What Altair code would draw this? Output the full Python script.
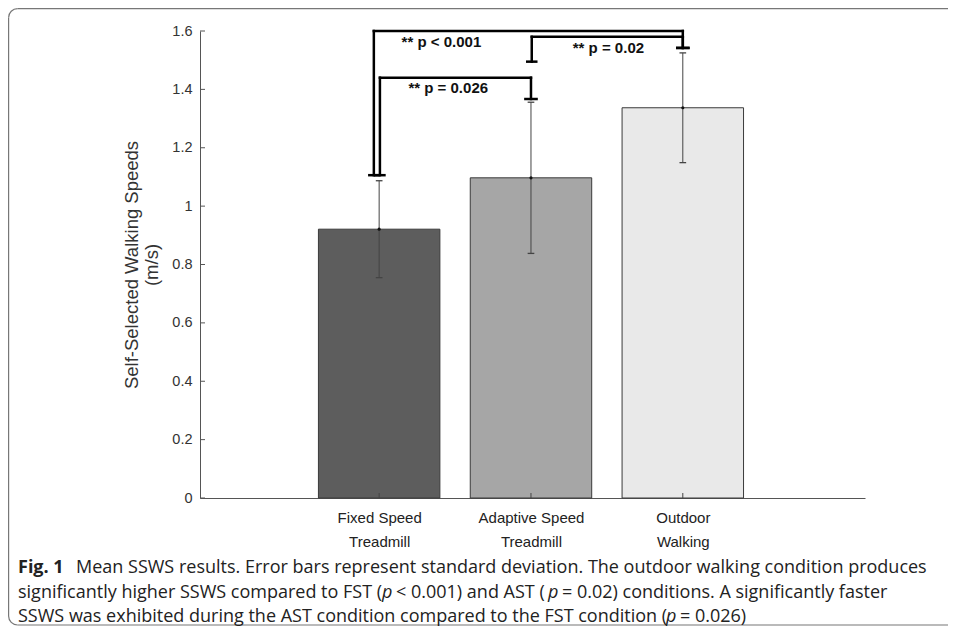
import altair as alt
import pandas as pd
import math

# ---------------- data ----------------
categories = ["Fixed Speed Treadmill", "Adaptive Speed Treadmill", "Outdoor Walking"]
label_line1 = ["Fixed Speed", "Adaptive Speed", "Outdoor"]
label_line2 = ["Treadmill", "Treadmill", "Walking"]
positions = [1, 2, 3]
means = [0.921, 1.097, 1.337]
sds = [0.166, 0.259, 0.188]
fills = ["#5d5d5d", "#a6a6a6", "#e9e9e9"]

y_ticks = [0, 0.2, 0.4, 0.6, 0.8, 1.0, 1.2, 1.4, 1.6]

# significance brackets
bracket_labels = ["** p < 0.001", "** p = 0.026", "** p = 0.02"]
bracket_from = [1, 1, 2]
bracket_to = [3, 2, 3]
bracket_from_dx = [-0.035, 0.005, 0.005]
bracket_top = [1.60, 1.44, 1.58]
bracket_from_end = [1.106, 1.106, 1.495]
bracket_to_end = [1.542, 1.367, 1.542]
bracket_label_x = [1.41, 1.455, 2.51]

caption_lines = [
    [("Fig. 1", "bold", "normal", 18),
     ("Mean SSWS results. Error bars represent standard deviation. The outdoor walking condition produces", "normal", "normal", 76)],
    [("significantly higher SSWS compared to FST (", "normal", "normal", 18), ("p", "normal", "italic", 382),
     ("< 0.001) and AST (", "normal", "normal", 396), ("p", "normal", "italic", 548),
     ("= 0.02) conditions. A significantly faster", "normal", "normal", 562)],
    [("SSWS was exhibited during the AST condition compared to the FST condition (", "normal", "normal", 18),
     ("p", "normal", "italic", 666), ("= 0.026)", "normal", "normal", 680)],
]
caption_baselines = [573, 597.5, 621.5]

# ---------------- layout ----------------
W, H = 665, 467
PL, PT = 192, 23
PR = 956 - 16 - PL - W
PB = 634 - 16 - PT - H
OX, OY = PL + 8, PT + 8  # page coords of plot origin

bars_df = pd.DataFrame({"pos": positions, "mean": means, "sd": sds, "fill": fills, "cat": categories})
br_df = pd.DataFrame({
    "label": bracket_labels,
    "lx": [a + d for a, d in zip(bracket_from, bracket_from_dx)],
    "rx": bracket_to,
    "top": bracket_top,
    "lend": bracket_from_end,
    "rend": bracket_to_end,
    "tx": bracket_label_x,
})
ticks_df = pd.DataFrame({"v": y_ticks})

label_expr = " : ".join(
    f"datum.value == {p} ? ['{a}', '{b}']" for p, a, b in zip(positions[:-1], label_line1[:-1], label_line2[:-1])
) + f" : ['{label_line1[-1]}', '{label_line2[-1]}']"

xs = alt.Scale(domain=[-0.18, 4.2], nice=False, zero=False)
ys = alt.Scale(domain=[0, 1.6], nice=False, zero=False)

xaxis = alt.Axis(values=positions, labelExpr=label_expr, title=None, ticks=False, grid=False,
                 domainColor="#555", labelFont="Liberation Sans", labelFontSize=15, labelColor="#222",
                 labelPadding=12, labelLineHeight=24)
yaxis = alt.Axis(values=y_ticks, format=".1~f", title=["Self-Selected Walking Speeds", "(m/s)"],
                 ticks=False, grid=False, domainColor="#555", labelFont="Liberation Sans",
                 labelFontSize=14.5, labelColor="#333", labelPadding=8, titleFont="Liberation Sans",
                 titleFontSize=18.5, titleFontWeight="normal", titleColor="#333", titlePadding=10,
                 titleLineHeight=20)


def X(f):
    return alt.X(f, type="quantitative", scale=xs, axis=xaxis)


def Y(f):
    return alt.Y(f, type="quantitative", scale=ys, axis=yaxis)


bars = alt.Chart(bars_df).transform_calculate(
    x0="datum.pos - 0.4", x1="datum.pos + 0.4", zero="0"
).mark_rect(stroke="#3a3a3a", strokeWidth=1).encode(
    x=X("x0"), x2="x1:Q", y=Y("mean"), y2="zero:Q", color=alt.Color("fill:N", scale=None)
)

err_base = alt.Chart(bars_df).transform_calculate(
    lo="datum.mean - datum.sd", hi="datum.mean + datum.sd",
    cl="datum.pos - 0.022", cr="datum.pos + 0.022"
)
err_line = err_base.mark_rule(color="#444", strokeWidth=1).encode(x=X("pos"), y=Y("lo"), y2="hi:Q")
cap_lo = err_base.mark_rule(color="#444", strokeWidth=1.3).encode(x=X("cl"), x2="cr:Q", y=Y("lo"))
cap_hi = err_base.mark_rule(color="#444", strokeWidth=1.3).encode(x=X("cl"), x2="cr:Q", y=Y("hi"))
mean_dot = alt.Chart(bars_df).mark_circle(size=10, color="#111", opacity=1).encode(x=X("pos"), y=Y("mean"))

bk = dict(color="#000", strokeWidth=2.5, strokeCap="square")
br_base = alt.Chart(br_df).transform_calculate(
    lc0="datum.lx - 0.038", lc1="datum.lx + 0.038", rc0="datum.rx - 0.045", rc1="datum.rx + 0.045",
    ty="datum.top - 0.037"
)
br_top = br_base.mark_rule(**bk).encode(x=X("lx"), x2="rx:Q", y=Y("top"))
br_left = br_base.mark_rule(**bk).encode(x=X("lx"), y=Y("top"), y2="lend:Q")
br_right = br_base.mark_rule(**bk).encode(x=X("rx"), y=Y("top"), y2="rend:Q")
br_lcap = br_base.mark_rule(color="#000", strokeWidth=2.5).encode(x=X("lc0"), x2="lc1:Q", y=Y("lend"))
br_rcap = br_base.mark_rule(color="#000", strokeWidth=2.5).encode(x=X("rc0"), x2="rc1:Q", y=Y("rend"))
br_text = br_base.mark_text(font="Liberation Sans", fontWeight="bold", fontSize=15, color="#111",
                            baseline="middle").encode(x=X("tx"), y=Y("ty"), text="label:N")

ytick_marks = alt.Chart(ticks_df).mark_rule(color="#555", strokeWidth=1).encode(
    x=alt.value(0), x2=alt.value(5), y=Y("v"))
xtick_marks = alt.Chart(bars_df).mark_rule(color="#444", strokeWidth=1).encode(
    x=X("pos"), y=alt.value(H), y2=alt.value(H - 5))

# figure frame: top, left and bottom edges with rounded left corners (kept inside the canvas)
one = pd.DataFrame({"a": [0]})
FL, FT, FB, R = 8.6, 8.6, 625.0, 9
RIGHT = W + PR
fr = dict(color="#777", strokeWidth=1.2)
frame_top = alt.Chart(one).mark_rule(**fr).encode(
    x=alt.value(FL + R - OX), x2=alt.value(RIGHT), y=alt.value(FT - OY))
frame_bottom = alt.Chart(one).mark_rule(**fr).encode(
    x=alt.value(FL + R - OX), x2=alt.value(RIGHT), y=alt.value(FB - OY))
frame_left = alt.Chart(one).mark_rule(**fr).encode(
    x=alt.value(FL - OX), y=alt.value(FT + R - OY), y2=alt.value(FB - R - OY))
corner_tl = alt.Chart(one).mark_arc(
    filled=False, stroke="#777", strokeWidth=1.2, radius=R, radius2=R,
    theta=1.5 * math.pi, theta2=2 * math.pi
).encode(x=alt.value(FL + R - OX), y=alt.value(FT + R - OY))
corner_bl = alt.Chart(one).mark_arc(
    filled=False, stroke="#777", strokeWidth=1.2, radius=R, radius2=R,
    theta=math.pi, theta2=1.5 * math.pi
).encode(x=alt.value(FL + R - OX), y=alt.value(FB - R - OY))

caption_layers = []
for line, base in zip(caption_lines, caption_baselines):
    for text, weight, style, px in line:
        caption_layers.append(
            alt.Chart(pd.DataFrame({"t": [text]})).mark_text(
                font="Open Sans", fontSize=18, fontWeight=weight, fontStyle=style, color="#222",
                align="left", baseline="alphabetic"
            ).encode(x=alt.value(px - OX), y=alt.value(base - OY), text="t:N")
        )

chart = alt.layer(
    frame_top, frame_bottom, frame_left, corner_tl, corner_bl,
    bars, err_line, cap_lo, cap_hi, mean_dot, ytick_marks, xtick_marks,
    br_top, br_left, br_right, br_lcap, br_rcap, br_text, *caption_layers
).properties(
    width=W, height=H,
    autosize=alt.AutoSizeParams(type="none"),
    padding={"left": PL, "top": PT, "right": PR, "bottom": PB},
    background="white",
).configure_view(stroke=None)

chart.save("out.html", embed_options={"renderer": "svg", "actions": False})
